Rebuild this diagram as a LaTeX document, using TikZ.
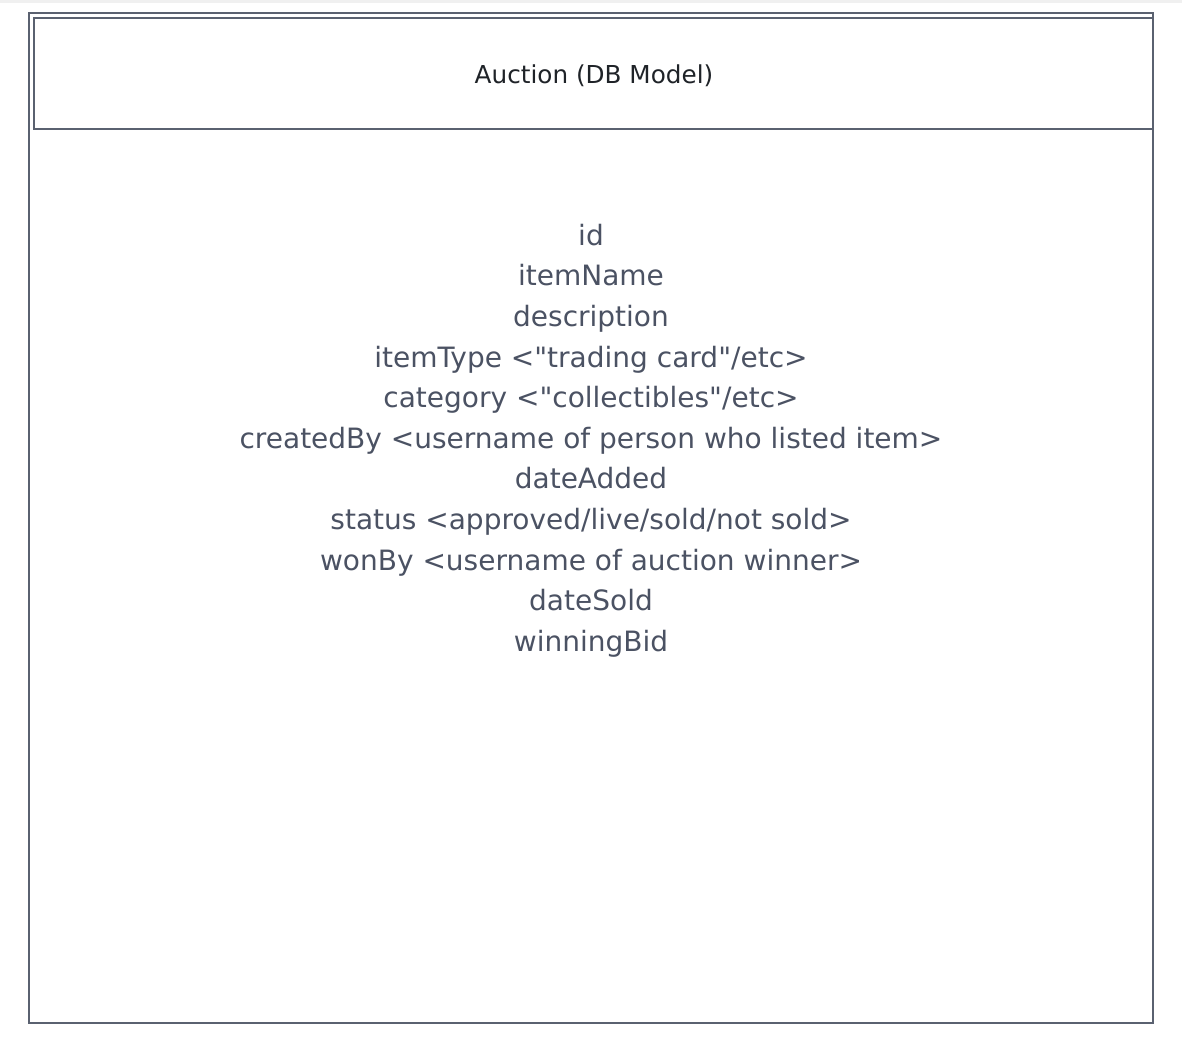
\documentclass[tikz,border=0pt]{standalone}
\usepackage{fontspec}
\setmainfont{DejaVu Sans}
\usepackage{tikz}

\definecolor{boxline}{HTML}{5A6170}
\definecolor{fieldtxt}{HTML}{4B5263}
\definecolor{titletxt}{HTML}{1F2328}

\tikzset{
  modelbox/.style={draw=boxline, line width=2.4pt},
  fieldlist/.style={align=center, text=fieldtxt, font=\fontsize{28}{40.6}\selectfont},
  modeltitle/.style={text=titletxt, font=\fontsize{24.7}{30}\selectfont}
}

\begin{document}
\begin{tikzpicture}[x=1pt,y=-1pt]
  \useasboundingbox (0,0) rectangle (1182,1044);
  \fill[gray!12] (0,0) rectangle (1182,3);
  \draw[modelbox] (29,13) rectangle (1153,1023);
  \draw[modelbox] (34,18) rectangle (1153,129);
  \node[modeltitle] at (594,76) (title) {Auction (DB Model)};
  \node[fieldlist] at (591,440.5) (fields) {id\\
    itemName\\
    description\\
    itemType <\textquotedbl trading card\textquotedbl/etc>\\
    category <\textquotedbl collectibles\textquotedbl/etc>\\
    createdBy <username of person who listed item>\\
    dateAdded\\
    status <approved/live/sold/not sold>\\
    wonBy <username of auction winner>\\
    dateSold\\
    winningBid};
\end{tikzpicture}
\end{document}
